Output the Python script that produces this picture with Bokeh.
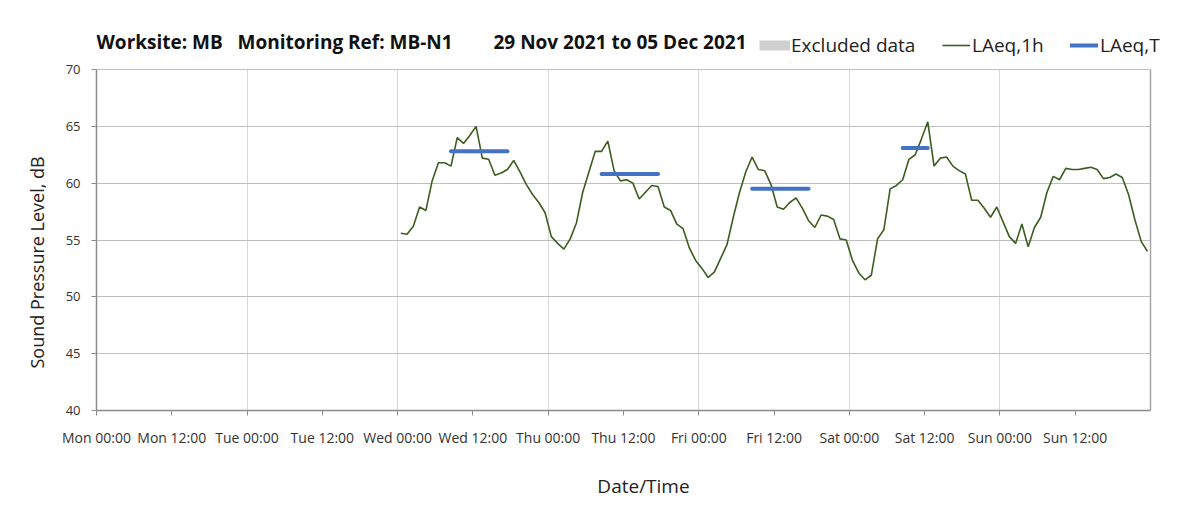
import math
import pandas as pd
from bokeh.plotting import figure
from bokeh.models import (ColumnDataSource, FixedTicker, DatetimeTickFormatter, Range1d,
                          Legend, LegendItem, Label, Title, Grid)
from bokeh.embed import file_html
from bokeh.resources import INLINE

# ---------------- data ----------------
period_start = "2021-11-29 00:00"
period_end = "2021-12-06 00:00"
first_hour = "2021-12-01 00:30"

laeq_1h = [55.6, 55.5, 56.2, 57.9, 57.6, 60.2, 61.8, 61.8, 61.5, 64.0, 63.5, 64.2,
           65.0, 62.2, 62.1, 60.7, 60.9, 61.2, 62.0, 61.0, 59.9, 59.0, 58.3, 57.4,
           55.3, 54.7, 54.2, 55.1, 56.5, 59.2, 61.0, 62.8, 62.8, 63.7, 61.1, 60.2,
           60.3, 60.0, 58.6, 59.2, 59.8, 59.7, 57.9, 57.6, 56.4, 56.0, 54.3, 53.2,
           52.5, 51.7, 52.2, 53.4, 54.6, 57.0, 59.2, 61.0, 62.3, 61.2, 61.1, 59.9,
           57.9, 57.7, 58.3, 58.7, 57.8, 56.7, 56.1, 57.2, 57.1, 56.8, 55.1, 55.0,
           53.2, 52.1, 51.5, 51.9, 55.1, 55.9, 59.5, 59.8, 60.3, 62.1, 62.5, 63.9,
           65.4, 61.5, 62.2, 62.3, 61.5, 61.1, 60.8, 58.5, 58.5, 57.8, 57.0, 57.9,
           56.6, 55.3, 54.7, 56.4, 54.4, 56.1, 57.0, 59.2, 60.6, 60.3, 61.3, 61.2,
           61.2, 61.3, 61.4, 61.2, 60.4, 60.5, 60.8, 60.5, 59.0, 56.8, 54.9, 54.0]

laeq_t_start = ["2021-12-01 08:30", "2021-12-02 08:30", "2021-12-03 08:30", "2021-12-04 08:30"]
laeq_t_end = ["2021-12-01 17:30", "2021-12-02 17:30", "2021-12-03 17:30", "2021-12-04 12:30"]
laeq_t = [62.8, 60.8, 59.5, 63.1]

excluded_start = []   # no excluded periods this week
excluded_end = []

y_ticks = [40, 45, 50, 55, 60, 65, 70]
title_parts = ["Worksite: MB", "Monitoring Ref: MB-N1", "29 Nov 2021 to 05 Dec 2021"]
legend_labels = ["Excluded data", "LAeq,1h", "LAeq,T"]

# ---------------- layout constants ----------------
FONT = "Open Sans"
W, H = 1195, 503
LEFT, PLOT_RIGHT, TOP, BOTTOM = 96, 1150, 24, 410       # plot box in pixels
FRAME_RIGHT = 1190                                       # frame extends right for the header
PX_PER_DB = 341 / 30                                     # 40..70 dB spans 341 px
frame_h = BOTTOM - TOP
y_lo, y_hi = y_ticks[0], y_ticks[-1]
y_top = y_lo + frame_h / PX_PER_DB                       # head room for header row

# ---------------- sources ----------------
times = pd.date_range(first_hour, periods=len(laeq_1h), freq="h")
src = ColumnDataSource(dict(t=times, v=laeq_1h))
tsrc = ColumnDataSource(dict(t0=pd.to_datetime(laeq_t_start), t1=pd.to_datetime(laeq_t_end), v=laeq_t))
if excluded_start:
    esrc = ColumnDataSource(dict(t0=pd.to_datetime(excluded_start), t1=pd.to_datetime(excluded_end)))
else:  # placeholder row (not drawn) so the legend swatch still renders
    esrc = ColumnDataSource(dict(t0=[math.nan], t1=[math.nan]))

x0 = pd.Timestamp(period_start)
x1 = pd.Timestamp(period_end)
x_ext = x1 + (x1 - x0) * ((FRAME_RIGHT - PLOT_RIGHT) / (PLOT_RIGHT - LEFT))

p = figure(width=W, height=H, x_axis_type="datetime",
           x_range=Range1d(x0, x_ext), y_range=Range1d(y_lo, y_top),
           output_backend="svg", toolbar_location=None,
           min_border_left=LEFT, min_border_right=W - FRAME_RIGHT, min_border_top=TOP,
           min_border_bottom=H - BOTTOM)
p.background_fill_color = "white"
p.border_fill_color = "white"
p.outline_line_color = None

half_days = pd.date_range(x0, x1, freq="12h")[:-1]
days = pd.date_range(x0, x1, freq="24h")
ms = lambda idx: [t.value / 1e6 for t in idx]

# axes
p.xaxis.ticker = FixedTicker(ticks=ms(half_days))
fmt = "%a %H:%M"
p.xaxis.formatter = DatetimeTickFormatter(milliseconds=fmt, seconds=fmt, minsec=fmt, minutes=fmt,
                                          hourmin=fmt, hours=fmt, days=fmt, months=fmt, years=fmt)
p.xaxis.bounds = (x0.value / 1e6, x1.value / 1e6)
p.yaxis.ticker = FixedTicker(ticks=y_ticks)
p.yaxis.bounds = (y_lo, y_hi)

for ax in (p.xaxis[0], p.yaxis[0]):
    ax.axis_line_color = "#8c8c8c"
    ax.axis_line_width = 1.5
    ax.major_tick_line_color = "#8c8c8c"
    ax.major_tick_in = 0
    ax.major_tick_out = 5
    ax.minor_tick_line_color = None
    ax.major_label_text_font = FONT
    ax.major_label_text_color = "#333333"
    ax.axis_label_text_font = FONT
    ax.axis_label_text_font_style = "normal"
    ax.axis_label_text_color = "#222222"

p.xaxis.major_label_text_font_size = "14px"
p.xaxis.major_label_standoff = 12
p.xaxis.axis_label = "Date/Time"
p.xaxis.axis_label_text_font_size = "19px"
p.xaxis.axis_label_standoff = 23
p.yaxis.major_label_text_font_size = "13px"
p.yaxis.major_label_standoff = 11

# y-axis title (anchored at the bottom of the plot box, reading upward)
p.add_layout(Title(text="Sound Pressure Level, dB", align="left", offset=42, standoff=27,
                   text_font=FONT, text_font_style="normal", text_font_size="18px",
                   text_color="#222222"), "left")

# grids
p.ygrid.ticker = FixedTicker(ticks=y_ticks)
p.ygrid.grid_line_color = "#bfbfbf"
p.ygrid.grid_line_width = 1
p.xgrid.ticker = FixedTicker(ticks=ms(days))
p.xgrid.grid_line_color = "#d9d9d9"
p.xgrid.grid_line_width = 1
if "cross_bounds" in Grid.properties():
    p.xgrid.cross_bounds = (y_lo, y_hi)
    p.ygrid.cross_bounds = (x0.value / 1e6, x1.value / 1e6)
else:
    p.xgrid.visible = False
    dsrc = ColumnDataSource(dict(d=days, lo=[y_lo] * len(days), hi=[y_hi] * len(days)))
    p.segment("d", "lo", "d", "hi", source=dsrc, line_color="#d9d9d9", line_width=1,
              level="underlay")

# right border of the plot box, at the end of the period
bsrc = ColumnDataSource(dict(x=[x1], lo=[y_lo], hi=[y_hi]))
p.segment("x", "lo", "x", "hi", source=bsrc, line_color="#a6a6a6", line_width=1.5)

# data
excl = p.segment("t0", y_lo, "t1", y_lo, source=esrc, line_color="#d0d0d0", line_width=10,
                 line_cap="butt")
green = p.line("t", "v", source=src, line_color="#3b5e1f", line_width=1.6)
blue = p.segment("t0", "v", "t1", "v", source=tsrc, line_color="#4472c4", line_width=4,
                 line_cap="round")

# header: legend items
legend_specs = [
    (excl, legend_labels[0], 759 - LEFT, 31, 1),
    (green, legend_labels[1], 942 - LEFT, 28, 2),
    (blue, legend_labels[2], 1070 - LEFT, 28, 2),
]
for r, lab, lx, gw, so in legend_specs:
    lg = Legend(items=[LegendItem(label=lab, renderers=[r])], location=(lx, BOTTOM - 58),
                orientation="horizontal", glyph_width=gw, glyph_height=12, label_standoff=so,
                padding=0, margin=0, border_line_color=None, background_fill_alpha=0,
                label_text_font=FONT, label_text_font_size="19px", label_text_color="#222222",
                label_height=12)
    p.add_layout(lg, "center")

# header: bold title parts
title_x = [96, 237, 493]
for tx, txt in zip(title_x, title_parts):
    p.add_layout(Label(x=tx - LEFT, y=BOTTOM - 41, x_units="screen", y_units="screen", text=txt,
                       text_font=FONT, text_font_style="bold", text_font_size="19px",
                       text_baseline="middle", text_color="#111111"))

open("out.html", "w").write(file_html(p, INLINE))
